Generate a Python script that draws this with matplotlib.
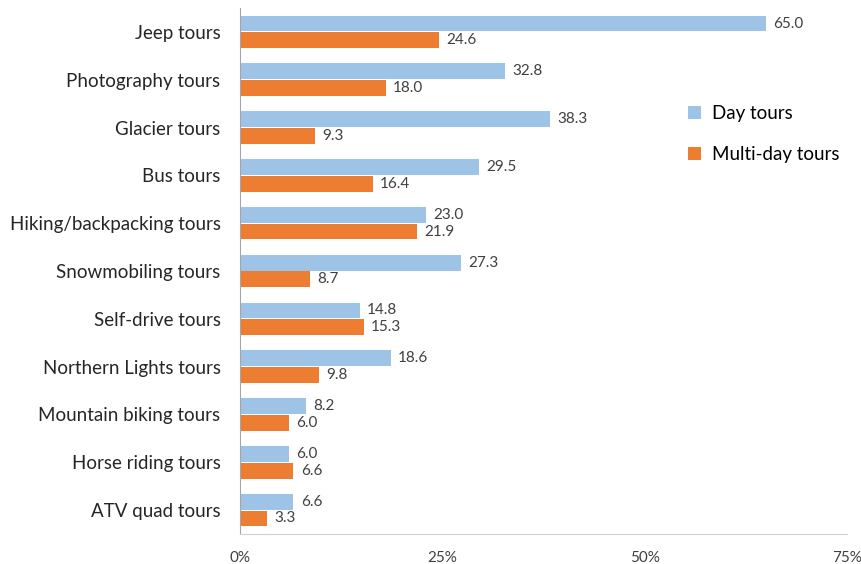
import numpy as np
import matplotlib.pyplot as plt
from matplotlib.ticker import FuncFormatter

plt.rcParams['font.family'] = ['Lato', 'DejaVu Sans']

# Tour types, top to bottom
categories = ['Jeep tours', 'Photography tours', 'Glacier tours', 'Bus tours',
              'Hiking/backpacking tours', 'Snowmobiling tours', 'Self-drive tours',
              'Northern Lights tours', 'Mountain biking tours', 'Horse riding tours',
              'ATV quad tours']
day_tours = [65.0, 32.8, 38.3, 29.5, 23.0, 27.3, 14.8, 18.6, 8.2, 6.0, 6.6]
multi_day_tours = [24.6, 18.0, 9.3, 16.4, 21.9, 8.7, 15.3, 9.8, 6.0, 6.6, 3.3]
x_ticks = [0, 25, 50, 75]

day_color = '#9DC3E6'
multi_color = '#ED7D31'

fig = plt.figure(figsize=(8.62, 5.64), dpi=100)
ax = fig.add_axes([240 / 862, 30 / 564, 607 / 862, 526 / 564])

y = np.arange(len(categories))
h = 0.33
gap = 0.02
ax.barh(y - h / 2 - gap / 2, day_tours, height=h, color=day_color, label='Day tours')
ax.barh(y + h / 2 + gap / 2, multi_day_tours, height=h, color=multi_color, label='Multi-day tours')

for yi, v in zip(y, day_tours):
    ax.text(v + 0.9, yi - h / 2 - gap / 2, f'{v:.1f}', va='center', ha='left',
            fontsize=11, color='#404040')
for yi, v in zip(y, multi_day_tours):
    ax.text(v + 0.9, yi + h / 2 + gap / 2, f'{v:.1f}', va='center', ha='left',
            fontsize=11, color='#404040')

ax.set_ylim(len(categories) - 0.5, -0.5)
ax.set_xlim(0, 75)
ax.set_yticks(y)
ax.set_yticklabels(categories, fontsize=13.5, color='#262626')
ax.set_xticks(x_ticks)
ax.xaxis.set_major_formatter(FuncFormatter(lambda v, p: f'{v:.0f}%'))
ax.tick_params(axis='x', labelsize=11, labelcolor='#404040', length=0, pad=12)
ax.tick_params(axis='y', length=0, pad=14)

for s in ['top', 'right']:
    ax.spines[s].set_visible(False)
ax.spines['left'].set_color('#A6A6A6')
ax.spines['bottom'].set_color('#D0D0D0')

ax.legend(loc='upper left', bbox_to_anchor=(0.71, 0.847), frameon=False,
          fontsize=13.5, handlelength=0.7, handleheight=0.7, labelspacing=1.25,
          handletextpad=0.6)

fig.savefig('out.png', dpi=100)
